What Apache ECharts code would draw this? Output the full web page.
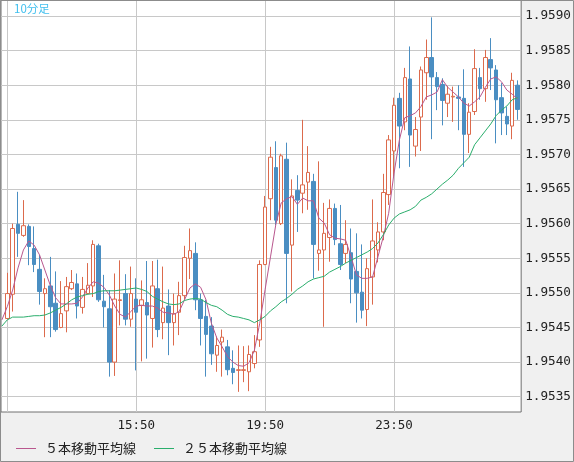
<!DOCTYPE html>
<html><head><meta charset="utf-8">
<script src="https://cdn.jsdelivr.net/npm/echarts@6/dist/echarts.min.js"></script>
<style>html,body{margin:0;padding:0;background:#f0f0f0}#c{width:574px;height:462px}</style>
</head><body><div id="c"></div>
<script>
// 10-minute bars, index 0 = 11:50
const times = ['11:50',
'12:00','12:10','12:20','12:30','12:40','12:50','13:00','13:10','13:20','13:30','13:40','13:50',
'14:00','14:10','14:20','14:30','14:40','14:50','15:00','15:10','15:20','15:30','15:40','15:50',
'16:00','16:10','16:20','16:30','16:40','16:50','17:00','17:10','17:20','17:30','17:40','17:50',
'18:00','18:10','18:20','18:30','18:40','18:50','19:00','19:10','19:20','19:30','19:40','19:50',
'20:00','20:10','20:20','20:30','20:40','20:50','21:00','21:10','21:20','21:30','21:40','21:50',
'22:00','22:10','22:20','22:30','22:40','22:50','23:00','23:10','23:20','23:30','23:40','23:50',
'00:00','00:10','00:20','00:30','00:40','00:50','01:00','01:10','01:20','01:30','01:40','01:50',
'02:00','02:10','02:20','02:30','02:40','02:50','03:00','03:10','03:20','03:30','03:40'];

const openP = [1.95463,1.95498,1.95599,1.95583,1.95596,1.95564,1.95534,1.95499,1.95510,1.95485,
1.95450,1.95474,1.95506,1.95513,1.95479,1.95499,1.95510,1.95568,1.95488,1.95477,
1.95400,1.95489,1.95499,1.95462,1.95491,1.95482,1.95486,1.95463,1.95506,1.95457,
1.95481,1.95457,1.95472,1.95496,1.95550,1.95557,1.95490,1.95466,1.95452,1.95410,
1.95429,1.95422,1.95391,1.95388,1.95388,1.95386,1.95398,1.95432,1.95541,1.95636,
1.95681,1.95600,1.95693,1.95569,1.95648,1.95644,1.95660,1.95661,1.95557,1.95562,
1.95580,1.95622,1.95571,1.95557,1.95558,1.95531,1.95501,1.95476,1.95523,1.95562,
1.95588,1.95642,1.95705,1.95781,1.95747,1.95809,1.95712,1.95754,1.95818,1.95840,
1.95811,1.95801,1.95774,1.95783,1.95783,1.95781,1.95729,1.95762,1.95811,1.95795,
1.95837,1.95822,1.95782,1.95755,1.95741,1.95800];

const closeP = [1.95499,1.95593,1.95586,1.95597,1.95567,1.95541,1.95502,1.95506,1.95480,1.95447,
1.95470,1.95509,1.95515,1.95481,1.95505,1.95511,1.95570,1.95490,1.95480,1.95400,
1.95491,1.95490,1.95462,1.95499,1.95472,1.95490,1.95468,1.95510,1.95447,1.95478,
1.95457,1.95470,1.95496,1.95551,1.95561,1.95490,1.95463,1.95440,1.95412,1.95424,
1.95436,1.95389,1.95385,1.95389,1.95389,1.95411,1.95415,1.95541,1.95624,1.95696,
1.95605,1.95698,1.95557,1.95640,1.95634,1.95656,1.95674,1.95570,1.95562,1.95586,
1.95622,1.95577,1.95541,1.95570,1.95520,1.95500,1.95475,1.95535,1.95575,1.95588,
1.95645,1.95721,1.95771,1.95741,1.95811,1.95728,1.95736,1.95822,1.95840,1.95812,
1.95798,1.95778,1.95787,1.95784,1.95781,1.95729,1.95761,1.95824,1.95795,1.95840,
1.95825,1.95779,1.95760,1.95744,1.95807,1.95765];

const highP = [1.95529,1.95600,1.95646,1.95634,1.95599,1.95596,1.95555,1.95521,1.95552,1.95531,
1.95517,1.95523,1.95533,1.95528,1.95523,1.95543,1.95576,1.95571,1.95526,1.95504,
1.95528,1.95547,1.95527,1.95538,1.95521,1.95518,1.95546,1.95546,1.95548,1.95538,
1.95505,1.95499,1.95516,1.95568,1.95593,1.95573,1.95499,1.95490,1.95465,1.95437,
1.95447,1.95432,1.95417,1.95424,1.95423,1.95424,1.95439,1.95547,1.95640,1.95711,
1.95719,1.95701,1.95717,1.95664,1.95670,1.95750,1.95712,1.95672,1.95690,1.95630,
1.95635,1.95629,1.95627,1.95605,1.95593,1.95586,1.95570,1.95550,1.95635,1.95602,
1.95672,1.95728,1.95782,1.95789,1.95825,1.95856,1.95754,1.95827,1.95866,1.95898,
1.95819,1.95810,1.95799,1.95798,1.95800,1.95823,1.95774,1.95852,1.95825,1.95851,
1.95868,1.95829,1.95803,1.95769,1.95818,1.95807];

const lowP = [1.95462,1.95473,1.95552,1.95581,1.95540,1.95530,1.95483,1.95436,1.95436,1.95444,
1.95449,1.95443,1.95504,1.95463,1.95470,1.95498,1.95494,1.95487,1.95450,1.95379,
1.95380,1.95453,1.95453,1.95451,1.95388,1.95401,1.95405,1.95421,1.95436,1.95433,
1.95410,1.95424,1.95439,1.95490,1.95520,1.95475,1.95424,1.95379,1.95396,1.95386,
1.95379,1.95381,1.95368,1.95357,1.95371,1.95358,1.95391,1.95422,1.95540,1.95605,
1.95598,1.95598,1.95485,1.95502,1.95588,1.95615,1.95620,1.95521,1.95532,1.95451,
1.95545,1.95569,1.95533,1.95543,1.95485,1.95457,1.95463,1.95452,1.95483,1.95544,
1.95576,1.95627,1.95668,1.95680,1.95735,1.95682,1.95697,1.95705,1.95779,1.95722,
1.95764,1.95742,1.95754,1.95747,1.95735,1.95682,1.95702,1.95757,1.95779,1.95776,
1.95793,1.95716,1.95728,1.95728,1.95722,1.95750];

// moving averages, first value belongs to the bar before 11:50
const ma5 = [1.95461,
1.95480,1.95504,1.95536,1.95562,1.95575,1.95569,1.95555,1.95533,1.95511,1.95493,
1.95484,1.95484,1.95484,1.95485,1.95494,1.95507,1.95516,1.95514,1.95508,1.95497,
1.95481,1.95469,1.95465,1.95473,1.95481,1.95482,1.95481,1.95481,1.95478,1.95472,
1.95471,1.95469,1.95473,1.95490,1.95507,1.95513,1.95508,1.95490,1.95456,1.95435,
1.95422,1.95408,1.95400,1.95395,1.95394,1.95399,1.95417,1.95456,1.95505,1.95552,
1.95599,1.95630,1.95636,1.95639,1.95628,1.95637,1.95633,1.95633,1.95608,1.95601,
1.95584,1.95579,1.95578,1.95576,1.95552,1.95526,1.95521,1.95521,1.95523,1.95552,
1.95581,1.95615,1.95673,1.95721,1.95753,1.95756,1.95760,1.95769,1.95783,1.95786,
1.95790,1.95808,1.95797,1.95790,1.95783,1.95774,1.95770,1.95776,1.95783,1.95797,
1.95809,1.95812,1.95805,1.95793,1.95787,1.95780];

const ma25 = [1.95452,
1.95461,1.95465,1.95465,1.95465,1.95466,1.95467,1.95467,1.95468,1.95471,1.95475,
1.95479,1.95484,1.95490,1.95494,1.95496,1.95498,1.95499,1.95502,1.95503,1.95503,
1.95503,1.95504,1.95505,1.95506,1.95507,1.95505,1.95502,1.95495,1.95491,1.95487,
1.95484,1.95483,1.95484,1.95489,1.95491,1.95492,1.95491,1.95486,1.95482,1.95480,
1.95475,1.95469,1.95466,1.95465,1.95463,1.95461,1.95457,1.95461,1.95466,1.95474,
1.95480,1.95487,1.95492,1.95498,1.95505,1.95510,1.95516,1.95520,1.95522,1.95524,
1.95530,1.95534,1.95538,1.95543,1.95547,1.95551,1.95555,1.95559,1.95564,1.95572,
1.95584,1.95598,1.95608,1.95614,1.95617,1.95620,1.95625,1.95634,1.95638,1.95643,
1.95650,1.95657,1.95663,1.95670,1.95680,1.95688,1.95696,1.95714,1.95724,1.95734,
1.95744,1.95756,1.95764,1.95770,1.95779,1.95782];

const yTicks = [1.9535,1.9540,1.9545,1.9550,1.9555,1.9560,1.9565,1.9570,1.9575,1.9580,1.9585,1.9590];
const xLabelIdx = [24, 48, 72];
const xGridIdx = [0, 24, 48, 72];

const candleData = openP.map((o, i) => [i, o, closeP[i], lowP[i], highP[i]]);
const ma5Data = ma5.map((v, i) => [i - 1, v]);
const ma25Data = ma25.map((v, i) => [i - 1, v]);

const chart = echarts.init(document.getElementById('c'), null, {renderer: 'canvas'});
chart.setOption({
  backgroundColor: '#f0f0f0',
  animation: false,
  title: {
    text: '10分足', left: 14, top: 3, padding: 0,
    textStyle: {color: '#3fbfee', fontSize: 11.5, fontWeight: 'normal', fontFamily: 'Noto Sans CJK JP'}
  },
  legend: {
    left: 16, top: 442, padding: 0, itemGap: 18, itemWidth: 20, itemHeight: 1, icon: 'rect',
    data: ['５本移動平均線', '２５本移動平均線'],
    textStyle: {fontSize: 13, color: '#222', fontFamily: 'Noto Sans CJK JP', padding: [0, 0, 0, 4]}
  },
  grid: {left: 1, top: 0, width: 522, height: 412, show: true, backgroundColor: '#ffffff', borderColor: '#707070', borderWidth: 1},
  xAxis: {
    type: 'value', min: -1.1687, max: 95.668,
    axisLine: {show: false},
    axisTick: {show: false, customValues: xGridIdx},
    axisLabel: {
      customValues: xLabelIdx, margin: 7,
      formatter: v => times[Math.round(v)] || '',
      fontFamily: 'DejaVu Sans Mono', fontSize: 12.5, color: '#222'
    },
    splitLine: {show: true, lineStyle: {color: '#c8c8c8', width: 1}}
  },
  yAxis: {
    type: 'value', position: 'right', min: 1.953279, max: 1.959231, scale: true,
    axisLine: {show: false},
    axisTick: {show: false, customValues: yTicks},
    axisLabel: {
      customValues: yTicks, margin: 4,
      formatter: v => v.toFixed(4),
      fontFamily: 'DejaVu Sans Mono', fontSize: 12.7, color: '#222'
    },
    splitLine: {show: true, lineStyle: {color: '#c8c8c8', width: 1}}
  },
  graphic: [{
    type: 'rect', silent: true, z: 100,
    shape: {x: 0.5, y: 0.5, width: 573, height: 461},
    style: {fill: 'transparent', stroke: '#8c8c8c', lineWidth: 1}
  }],
  series: [
    {
      type: 'candlestick', name: 'price', data: candleData, barWidth: 4,
      itemStyle: {color: '#ffffff', color0: '#4a8ec2', borderColor: '#dc6a4c', borderColor0: '#4a8ec2', borderWidth: 1}
    },
    {
      type: 'line', name: '５本移動平均線', data: ma5Data, symbol: 'none', z: 3,
      lineStyle: {color: '#b9578e', width: 1}, itemStyle: {color: '#b9578e'}
    },
    {
      type: 'line', name: '２５本移動平均線', data: ma25Data, symbol: 'none', z: 3,
      lineStyle: {color: '#2aae6c', width: 1}, itemStyle: {color: '#2aae6c'}
    }
  ]
});
</script></body></html>
